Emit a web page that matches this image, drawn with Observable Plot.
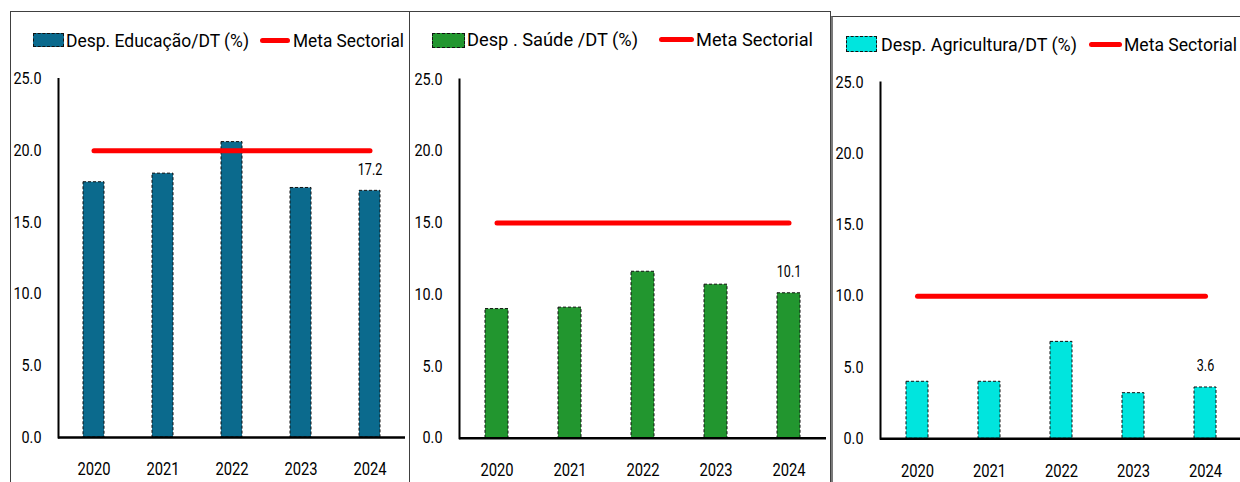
<!DOCTYPE html>
<html>
<head>
<meta charset="utf-8">
<script src="https://cdn.jsdelivr.net/npm/d3@7"></script>
<script src="https://cdn.jsdelivr.net/npm/@observablehq/plot@0.6"></script>
<style>
  html, body { margin: 0; padding: 0; background: #fff; overflow: hidden; }
  #page { position: relative; width: 1240px; height: 482px; overflow: hidden; font-family: Roboto, sans-serif; }
  .panel { position: absolute; border: 1.5px solid #404040; box-sizing: border-box; }
  .chart { position: absolute; }
  .swatch { position: absolute; box-sizing: border-box; border: 1px dashed #111; }
  .redline { position: absolute; height: 5px; background: #ff0000; border-radius: 3px; }
  .legtext { position: absolute; white-space: nowrap; font-size: 19px; line-height: 19px; color: #000; transform-origin: 0 50%; }
</style>
</head>
<body>
<div id="page"></div>
<script>
// ---- data ----
const years = ["2020", "2021", "2022", "2023", "2024"];
const educacao = [17.8, 18.4, 20.6, 17.4, 17.2];
const saude = [9.0, 9.1, 11.6, 10.7, 10.1];
const agricultura = [4.0, 4.0, 6.8, 3.2, 3.6];
const metas = [20, 15, 10];
const seriesNames = ["Desp. Educação/DT (%)", "Desp . Saúde /DT (%)", "Desp. Agricultura/DT (%)"];
const metaName = "Meta Sectorial";
const yTicks = [0, 5, 10, 15, 20, 25];
const seriesValues = [educacao, saude, agricultura];

// ---- styling / layout ----
const colors = ["#0b6a8d", "#22962f", "#00e5de"];
const panels = [
  { box: [10, 11, 400, 500], svg: { left: 10, top: 60, width: 400, height: 422, ml: 48, mr: 5, mt: 18.5, mb: 45 },
    leg: { sw: [33, 33, 31, 14], t1: [66, 40, 183], rl: [260, 40, 30], t2: [293, 40, 111] } },
  { box: [409, 11, 422, 500], svg: { left: 410, top: 60, width: 420, height: 422, ml: 49, mr: 4, mt: 19, mb: 44.3 },
    leg: { sw: [432, 33, 33, 15], t1: [467, 39.5, 171], rl: [659, 39, 35], t2: [696, 39.5, 117] } },
  { box: [831, 16, 430, 500], svg: { left: 832, top: 60, width: 412, height: 422, ml: 48, mr: 2, mt: 22, mb: 43.7 },
    leg: { sw: [846, 36, 31, 16], t1: [881, 44, 196], rl: [1089, 44, 33], t2: [1124, 44, 113] } }
];

const page = document.getElementById("page");

function compress(svg, selector, factor) {
  svg.querySelectorAll(selector).forEach(t => {
    const w = t.getComputedTextLength();
    if (w > 0) {
      t.setAttribute("textLength", (w * factor).toFixed(2));
      t.setAttribute("lengthAdjust", "spacingAndGlyphs");
    }
  });
}

function legText(txt, x, cy, target) {
  const s = document.createElement("div");
  s.className = "legtext";
  s.textContent = txt;
  s.style.left = x + "px";
  s.style.top = (cy - 9.5) + "px";
  page.appendChild(s);
  const w = s.getBoundingClientRect().width;
  s.style.transform = `scaleX(${(target / w).toFixed(4)})`;
}

panels.forEach((p, i) => {
  const box = document.createElement("div");
  box.className = "panel";
  box.style.left = p.box[0] + "px";
  box.style.top = p.box[1] + "px";
  box.style.width = p.box[2] + "px";
  box.style.height = p.box[3] + "px";
  if (i === 2) box.style.borderLeft = "2px solid #7a7a7a";
  page.appendChild(box);

  // legend
  const L = p.leg;
  const sw = document.createElement("div");
  sw.className = "swatch";
  sw.style.left = L.sw[0] + "px"; sw.style.top = L.sw[1] + "px";
  sw.style.width = L.sw[2] + "px"; sw.style.height = L.sw[3] + "px";
  sw.style.background = colors[i];
  page.appendChild(sw);
  legText(seriesNames[i], L.t1[0], L.t1[1], L.t1[2]);
  const rl = document.createElement("div");
  rl.className = "redline";
  rl.style.left = L.rl[0] + "px"; rl.style.top = (L.rl[1] - 2.5) + "px"; rl.style.width = L.rl[2] + "px";
  page.appendChild(rl);
  legText(metaName, L.t2[0], L.t2[1], L.t2[2]);

  // chart
  const data = years.map((y, k) => ({ year: y, value: seriesValues[i][k] }));
  const metaData = years.map(y => ({ year: y, value: metas[i] }));
  const last = [data[data.length - 1]];
  const S = p.svg;
  const svg = Plot.plot({
    width: S.width, height: S.height,
    marginLeft: S.ml, marginRight: S.mr, marginTop: S.mt, marginBottom: S.mb,
    style: { fontFamily: "Roboto, sans-serif", background: "transparent", overflow: "visible", color: "#000" },
    x: { type: "band", domain: years, paddingInner: 0.69, paddingOuter: 0.345, label: null },
    y: { domain: [0, 25], label: null },
    marks: [
      Plot.barY(data, { x: "year", y: "value", fill: colors[i], stroke: "#111", strokeWidth: 1, strokeDasharray: "3,2" }),
      Plot.frame({ anchor: "left", stroke: "#000", strokeWidth: 2 }),
      Plot.ruleY([0], { stroke: "#000", strokeWidth: 2.5 }),
      Plot.lineY(metaData, { x: "year", y: "value", stroke: "#ff0000", strokeWidth: 5, strokeLinecap: "round" }),
      Plot.text(last, { x: "year", y: "value", text: d => d.value.toFixed(1), dy: -16, lineAnchor: "bottom", fontSize: 17, fill: "#000" }),
      Plot.axisY({ ticks: yTicks, tickFormat: d => d.toFixed(1), tickSize: 0, tickPadding: 17, fontSize: 16, fill: "#000", label: null }),
      Plot.axisX({ tickSize: 0, tickPadding: 25, fontSize: 18, fill: "#000", label: null })
    ]
  });
  svg.classList.add("chart");
  svg.style.position = "absolute";
  svg.style.left = S.left + "px";
  svg.style.top = S.top + "px";
  page.appendChild(svg);
  compress(svg, 'g[aria-label="y-axis tick label"] text', 0.9);
  compress(svg, 'g[aria-label="x-axis tick label"] text', 0.82);
  compress(svg, 'g[aria-label="text"] text', 0.74);
});
</script>
</body>
</html>
